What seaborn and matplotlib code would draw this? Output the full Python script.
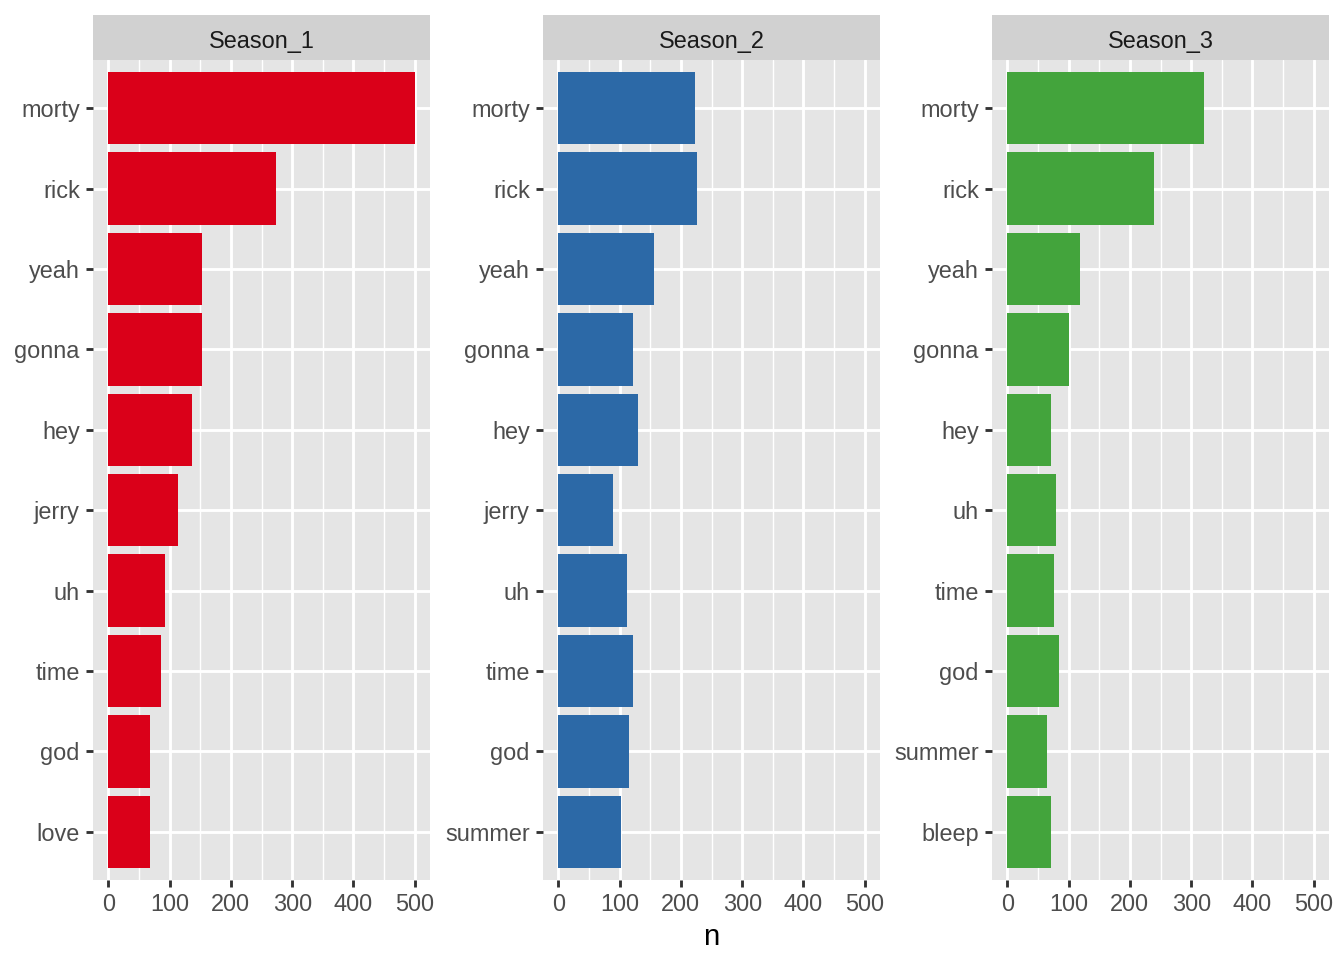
import pandas as pd
import matplotlib.pyplot as plt
import seaborn as sns

seasons = ['Season_1', 'Season_2', 'Season_3']
words_s1 = ['morty', 'rick', 'yeah', 'gonna', 'hey', 'jerry', 'uh', 'time', 'god', 'love']
n_s1 = [500, 274, 153, 153, 137, 114, 93, 86, 68, 68]
words_s2 = ['morty', 'rick', 'yeah', 'gonna', 'hey', 'jerry', 'uh', 'time', 'god', 'summer']
n_s2 = [223, 226, 156, 122, 130, 90, 112, 122, 116, 103]
words_s3 = ['morty', 'rick', 'yeah', 'gonna', 'hey', 'uh', 'time', 'god', 'summer', 'bleep']
n_s3 = [321, 240, 119, 101, 72, 80, 77, 85, 65, 72]
colors = ['#DA0019', '#2C69A7', '#43A43C']

df = pd.concat([
    pd.DataFrame({'season': s, 'word': w, 'n': n})
    for s, w, n in zip(seasons, [words_s1, words_s2, words_s3], [n_s1, n_s2, n_s3])
])

sns.set_theme(style='white')
plt.rcParams['font.family'] = ['Liberation Sans', 'DejaVu Sans']

W, H = 1344, 960
fig = plt.figure(figsize=(7, 5), dpi=192)

# panel boxes in pixels
lefts = [93, 543, 992]
width = 337
top, bottom, strip_top = 60, 880, 15

for i, s in enumerate(seasons):
    l = lefts[i]
    ax = fig.add_axes([l / W, 1 - bottom / H, width / W, (bottom - top) / H])
    sub = df[df['season'] == s]
    sns.barplot(data=sub, x='n', y='word', color=colors[i], saturation=1,
                width=0.9, linewidth=0, ax=ax, zorder=3)
    ax.set_facecolor('#E5E5E5')
    ax.set_xlim(-25, 525)
    ax.set_ylim(9.6, -0.6)
    ax.set_xticks(range(0, 501, 100))
    ax.set_xticks(range(50, 500, 100), minor=True)
    ax.grid(which='major', color='white', linewidth=1.07, zorder=0)
    ax.grid(which='minor', axis='x', color='white', linewidth=0.53, zorder=0)
    ax.set_axisbelow(True)
    for sp in ax.spines.values():
        sp.set_visible(False)
    ax.tick_params(which='major', bottom=True, left=True, length=2.74, width=1.07,
                   color='#333333', labelsize=8.8, labelcolor='#4D4D4D', pad=2.2)
    ax.tick_params(which='minor', bottom=False, left=False, length=0)
    ax.set_xlabel('')
    ax.set_ylabel('')

    # facet strip
    sax = fig.add_axes([l / W, 1 - top / H, width / W, (top - strip_top) / H])
    sax.set_facecolor('#D1D1D1')
    sax.set_xticks([])
    sax.set_yticks([])
    for sp in sax.spines.values():
        sp.set_visible(False)
    sax.text(0.5, 0.47, s, ha='center', va='center_baseline', fontsize=8.8,
             color='#1A1A1A', transform=sax.transAxes)

fig.text((93 + 1329) / 2 / W, 1 - 937 / H, 'n', ha='center', va='center',
         fontsize=11, color='black')

fig.savefig('out.png', dpi=192)
